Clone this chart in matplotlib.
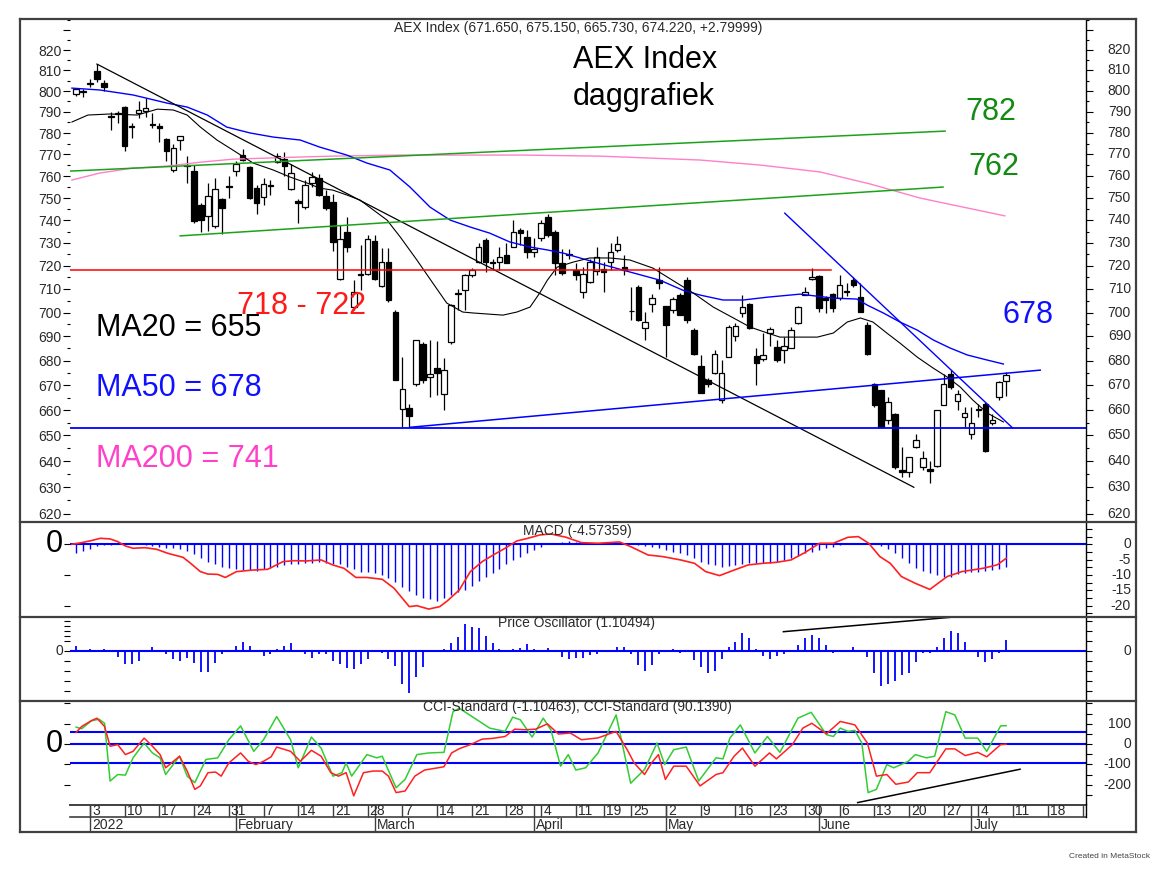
import numpy as np
import matplotlib
matplotlib.use("Agg")
import matplotlib.pyplot as plt
import matplotlib.transforms as mtransforms
from matplotlib.lines import Line2D
from matplotlib.ticker import FixedLocator, FuncFormatter, NullFormatter

plt.rcParams["font.family"] = ["Liberation Sans", "DejaVu Sans"]

W, H = 1154, 873
TXT = "#2a2a2a"
FRAME = "#404040"

# --------------------------------------------------------------------------- #
#  Data (bar 0 = Mon 3 Jan 2022, trading days only)
# --------------------------------------------------------------------------- #
FIRST_BAR = -2

opens = [
    798.5, 799.5, 803.5, 809.5, 803.7, 788.0, 789.0, 792.5, 783.5, 789.4,
    790.2, 784.0, 783.1, 777.2, 762.9, 776.5, 765.0, 762.2, 747.0, 742.0,
    737.4, 749.6, 755.5, 762.2, 769.9, 764.4, 754.5, 750.7, 755.6, 766.6,
    768.0, 754.0, 748.5, 746.1, 756.8, 759.0, 751.0, 748.1, 714.4, 735.0,
    702.4, 716.0, 716.6, 731.0, 711.2, 721.6, 700.3, 660.5, 660.8, 670.5,
    687.0, 673.5, 677.0, 666.5, 687.7, 707.8, 709.5, 716.0, 721.7, 731.2,
    721.7, 721.7, 724.5, 728.3, 735.7, 732.7, 726.0, 732.0, 741.6, 735.0,
    721.0, 724.6, 718.0, 708.8, 713.0, 717.9, 718.5, 721.8, 727.0, 719.5,
    700.5, 711.0, 693.7, 703.8, 714.0, 702.7, 701.0, 707.4, 713.8, 692.6,
    677.8, 672.1, 675.0, 664.1, 681.5, 690.0, 699.6, 703.5, 681.7, 680.6,
    691.5, 685.7, 684.5, 685.0, 695.7, 707.5, 714.5, 715.5, 706.0, 708.0,
    706.0, 709.0, 714.0, 706.7, 694.7, 670.6, 667.9, 655.9, 658.5, 636.5,
    635.8, 645.6, 637.7, 636.8, 638.3, 661.9, 674.4, 663.6, 657.2, 650.6,
    660.5, 662.6, 654.9, 665.2, 671.65,
]
highs = [
    801.5, 801.0, 806.0, 813.0, 805.5, 790.0, 790.5, 793.0, 784.6, 795.0,
    796.5, 789.4, 784.6, 777.6, 775.0, 778.5, 769.4, 765.2, 748.0, 756.8,
    759.0, 750.0, 760.2, 766.8, 772.7, 764.7, 756.0, 759.0, 758.0, 770.5,
    771.0, 765.5, 749.5, 758.0, 762.0, 761.0, 753.6, 751.8, 737.8, 741.4,
    713.7, 729.0, 733.6, 733.6, 727.7, 727.7, 701.0, 681.5, 662.6, 688.4,
    687.7, 688.4, 688.0, 681.0, 703.7, 710.0, 716.6, 719.0, 729.8, 732.0,
    723.0, 728.3, 729.8, 740.0, 736.5, 735.7, 732.0, 740.0, 743.0, 735.5,
    727.5, 727.5, 721.0, 719.6, 723.0, 728.0, 721.8, 730.0, 733.0, 724.6,
    710.9, 711.5, 700.3, 708.0, 719.6, 702.9, 706.7, 708.2, 715.2, 693.3,
    682.2, 672.8, 684.3, 680.3, 694.7, 695.4, 707.4, 704.0, 685.0, 691.5,
    694.0, 688.5, 689.9, 694.0, 702.6, 711.0, 719.0, 716.0, 707.0, 708.3,
    716.0, 712.4, 715.2, 712.4, 695.9, 670.9, 668.0, 665.2, 659.0, 645.4,
    641.5, 650.6, 644.1, 640.0, 660.0, 674.7, 676.0, 668.0, 661.3, 661.3,
    662.6, 663.2, 658.5, 671.6, 675.15,
]
lows = [
    797.8, 797.0, 802.0, 804.5, 800.0, 781.5, 784.6, 771.4, 777.6, 787.0,
    787.8, 782.3, 776.0, 766.8, 762.0, 772.0, 756.8, 738.8, 735.0, 735.2,
    736.5, 734.0, 750.0, 760.2, 766.8, 749.6, 742.8, 747.0, 751.6, 766.0,
    760.0, 753.8, 738.6, 745.3, 755.0, 751.0, 744.6, 726.3, 714.0, 726.1,
    701.0, 709.5, 716.0, 714.0, 711.0, 704.5, 672.0, 653.3, 653.3, 669.6,
    671.0, 665.3, 666.0, 660.0, 687.0, 701.0, 701.0, 715.0, 721.0, 717.3,
    718.0, 718.0, 721.0, 728.0, 729.0, 723.6, 724.0, 731.0, 732.5, 716.0,
    716.0, 723.0, 714.0, 706.0, 712.4, 716.0, 708.5, 718.2, 726.0, 716.0,
    697.0, 696.6, 688.5, 700.3, 710.0, 681.5, 699.6, 698.9, 695.4, 682.2,
    666.7, 669.4, 674.7, 662.7, 681.5, 688.0, 698.2, 693.0, 670.0, 680.0,
    686.0, 679.5, 678.9, 685.0, 695.0, 707.5, 713.7, 700.3, 700.0, 700.3,
    705.3, 707.0, 711.0, 700.3, 682.2, 661.3, 653.5, 654.6, 637.0, 633.8,
    633.8, 645.0, 636.5, 631.8, 637.7, 661.9, 668.6, 660.0, 653.4, 648.6,
    657.2, 643.5, 654.0, 663.9, 665.73,
]
closes = [
    800.8, 800.0, 804.0, 805.6, 801.8, 787.5, 789.5, 773.7, 783.0, 791.0,
    791.8, 783.8, 782.5, 771.4, 773.0, 778.4, 764.5, 739.6, 740.3, 751.0,
    754.1, 745.5, 755.0, 765.7, 767.5, 750.0, 747.8, 756.2, 755.9, 769.2,
    764.5, 761.5, 748.0, 755.9, 759.5, 751.3, 745.4, 730.5, 731.9, 728.3,
    708.8, 716.5, 731.9, 714.4, 721.6, 705.3, 672.0, 668.6, 657.8, 688.4,
    672.0, 674.7, 675.0, 676.0, 703.0, 708.2, 716.0, 718.2, 728.3, 721.7,
    721.0, 724.0, 721.0, 735.0, 734.2, 726.0, 727.5, 738.6, 733.5, 721.0,
    717.0, 725.0, 716.0, 716.4, 721.6, 724.0, 717.5, 725.8, 729.5, 718.0,
    700.7, 697.0, 696.0, 706.0, 712.6, 694.7, 705.9, 698.9, 696.8, 682.6,
    666.7, 670.5, 682.6, 674.8, 694.0, 694.3, 702.5, 693.7, 678.9, 682.3,
    693.0, 680.3, 686.0, 692.6, 702.2, 708.5, 715.0, 701.7, 705.5, 701.7,
    711.7, 708.5, 711.7, 700.3, 682.8, 661.9, 653.5, 663.2, 637.7, 636.0,
    641.5, 648.2, 641.2, 636.2, 660.0, 670.6, 669.2, 666.3, 658.8, 655.0,
    660.0, 644.1, 656.2, 671.42, 674.22,
]

# moving averages (bar position, value)
ma20_x = [-2.6, -0.3, 2.9, 6.8, 9.7, 12.0, 14.0, 15.9, 18.3, 20.6,
          23.5, 26.4, 28.8, 31.3, 33.1, 35.0, 37.0, 38.9, 42.8, 44.7,
          47.1, 49.4, 51.4, 53.7, 55.2, 59.5, 61.5, 63.4, 64.8, 65.9,
          67.3, 69.6, 72.0, 74.9, 77.8, 81.1, 84.6, 86.9, 89.8, 92.7,
          95.1, 97.6, 99.4, 102.3, 104.8, 107.1, 109.1, 111.0, 112.8, 114.8,
          116.7, 119.2, 121.5, 123.5, 125.4, 127.2, 129.3, 131.6]
ma20_v = [785.2, 788.5, 789.0, 788.5, 791.3, 790.9, 788.5, 782.8, 776.7, 772.0,
          766.0, 762.8, 759.6, 756.8, 754.5, 753.6, 751.4, 749.1, 740.1, 732.6,
          722.5, 712.5, 704.0, 700.2, 699.8, 698.9, 700.2, 702.3, 708.3, 713.8,
          719.4, 721.6, 723.4, 723.4, 722.5, 719.0, 712.5, 708.3, 702.3, 697.7,
          693.9, 691.4, 689.7, 689.7, 689.7, 691.4, 696.0, 697.7, 696.0, 691.4,
          687.2, 681.4, 676.9, 673.3, 669.2, 664.0, 658.8, 655.3]
ma50_x = [-2.6, 1.4, 6.2, 11.1, 14.0, 16.9, 19.7, 23.1, 26.4, 30.3,
          33.1, 37.0, 39.9, 43.2, 46.1, 49.0, 51.9, 54.8, 57.6, 60.5,
          63.4, 65.9, 68.2, 70.6, 73.1, 77.8, 82.1, 85.4, 87.9, 91.2,
          94.1, 97.6, 102.3, 107.1, 110.5, 112.0, 114.3, 116.7, 119.2, 121.5,
          123.9, 126.4, 129.3, 131.6]
ma50_v = [801.4, 800.5, 798.1, 794.2, 792.3, 788.5, 782.8, 780.0, 778.1, 776.7,
          773.4, 769.7, 766.0, 762.8, 755.0, 745.9, 740.1, 737.0, 734.3, 730.4,
          728.2, 726.9, 725.5, 723.4, 721.2, 717.3, 713.8, 709.5, 707.4, 705.3,
          705.3, 706.5, 707.8, 706.1, 705.7, 703.1, 699.8, 696.0, 692.6, 688.5,
          685.2, 682.3, 680.2, 678.6]
ma200_x = [-2.6, 1.4, 6.2, 11.1, 15.9, 20.6, 25.5, 30.3, 35.0, 44.7,
           62.0, 73.5, 87.9, 96.5, 105.2, 112.4, 119.6, 131.8]
ma200_v = [758.2, 761.4, 763.7, 764.6, 766.4, 767.8, 768.3, 768.8, 769.2, 769.7,
           769.7, 769.2, 767.4, 765.1, 761.9, 756.4, 750.0, 742.0]

# drawn trend lines (end points)
down_x, down_v = [1.0, 118.7], [813.1, 630.0]
chan_hi_x, chan_hi_v = [-2.88, 123.2], [762.3, 780.9]
chan_lo_x, chan_lo_v = [13.0, 122.9], [733.1, 755.0]
resist_x, resist_v = [-2.88, 106.8], [718.1, 718.1]
support_x, support_v = [-2.88, 143.5], [653.0, 653.0]
rise_x, rise_v = [46.1, 136.9], [653.2, 676.1]
steep_x, steep_v = [100.1, 132.9], [743.2, 653.0]

# MACD
macd_x = [-2.6, -1.2, 0.2, 1.5, 2.9, 4.0, 5.1, 6.2, 7.9, 9.6,
          11.2, 13.4, 14.5, 15.9, 17.0, 18.4, 19.5, 21.1, 23.4, 25.6,
          27.8, 29.4, 31.1, 33.3, 35.0, 36.6, 38.3, 39.9, 42.1, 43.8,
          46.0, 47.1, 48.8, 50.4, 51.5, 53.2, 54.8, 56.5, 58.1, 59.8,
          61.5, 63.1, 64.8, 66.4, 68.6, 70.8, 73.2, 76.3, 77.9, 80.4,
          82.5, 85.1, 87.1, 88.7, 90.7, 92.8, 94.8, 96.9, 98.9, 101.0,
          103.0, 105.1, 107.1, 109.2, 110.7, 112.2, 113.8, 115.3, 116.9, 118.9,
          121.0, 123.5, 125.6, 128.7, 130.7, 132.0]
macd_v = [0, 0.54, 1.2, 1.96, 1.74, 0.87, -0.54, -1.3, -1.1, -1.63,
          -2.93, -4.24, -6.2, -8.9, -9.7, -9.8, -10.8, -8.9, -8.4, -8.15,
          -5.65, -5.33, -5.43, -5.1, -6.74, -7.83, -10.8, -10.8, -11.4, -14.3,
          -20.3, -20.0, -21.1, -20.3, -18.4, -14.9, -8.9, -5.65, -3.48, -1.3,
          1.09, 1.96, 3.04, 3.37, 2.28, 0.54, 0.33, 0.76, -0.76, -3.48,
          -4.0, -5.1, -6.2, -8.9, -10.2, -8.4, -6.74, -6.2, -5.87, -5.1,
          -2.7, 0.33, 0.33, 2.28, 2.5, 0.33, -4.0, -6.2, -10.5, -12.7,
          -14.7, -10.5, -8.9, -7.8, -6.7, -4.57]
macd_hist = [
    -2.7, -2.07, -1.63, -0.54, -0.2, -0.1, 0, 0, 0, 0,
    -0.2, -0.54, -0.76, -1.09, -1.3, -1.63, -2.07, -3.15, -4.57, -5.65,
    -6.4, -7.3, -7.8, -8.15, -8.4, -8.4, -8.6, -8.15, -7.8, -7.3,
    -6.74, -6.4, -6.4, -6.2, -6.0, -5.65, -6.0, -6.4, -6.4, -7.3,
    -8.15, -8.9, -8.9, -9.46, -10.0, -10.9, -12.2, -13.8, -15.2, -16.5,
    -17.6, -17.9, -18.4, -17.6, -16.5, -15.4, -14.9, -13.6, -11.8, -10.5,
    -9.46, -8.15, -6.5, -5.1, -4.0, -2.93, -1.85, -0.76, 0, 0.3,
    0.65, 1.09, 0.87, 0.65, 0.33, 0.3, 0.5, 0.6, 0.5, 0.2,
    0, -0.3, -0.54, -1.0, -1.3, -1.85, -2.4, -2.93, -3.48, -4.57,
    -5.65, -6.4, -6.74, -7.3, -7.07, -6.74, -6.4, -6.2, -6.2, -6.2,
    -6.0, -5.65, -5.1, -4.57, -3.8, -2.93, -2.4, -1.85, -1.3, -0.76,
    -0.33, 0.1, 0.2, 0.15, 0.05, 0, -0.54, -1.63, -2.93, -4.57,
    -6.2, -7.8, -8.7, -9.46, -10.0, -10.5, -10.5, -9.67, -9.24, -8.9,
    -8.9, -8.6, -8.37, -8.15, -7.3,
]

# Price oscillator
price_osc = [
    0.5, 0.13, 0.17, 0.1, 0.17, 0, -0.57, -1.3, -1.3, -0.97,
    0, 0.37, 0, -0.33, -0.83, -0.97, -0.67, -1.23, -2.07, -2.07,
    -1.17, -0.33, 0, 0.5, 0.93, 0.5, 0, -0.5, -0.33, 0.17,
    0.5, 0.77, 0, -0.33, -0.67, -0.33, -0.33, -1.0, -1.3, -1.73,
    -1.83, -1.3, -0.77, 0, -0.23, -0.77, -1.5, -3.33, -4.23, -2.57,
    -1.57, 0, 0, 0.17, 0.77, 1.37, 2.7, 2.43, 2.27, 1.53,
    0.77, 0.17, 0, 0.17, 0.33, 0.67, 0.17, 0, 0.33, 0,
    -0.57, -0.77, -0.67, -0.67, -0.43, -0.3, 0, 0.1, 0.37, 0.37,
    -0.3, -1.4, -2.0, -1.4, -0.3, 0, 0.17, -0.17, 0, -0.9,
    -1.63, -2.17, -1.97, -0.83, 0.37, 0.93, 1.83, 1.27, 0.17, -0.47,
    -0.77, -0.47, -0.3, 0, 0.6, 1.33, 1.57, 1.27, 0.6, -0.17,
    0, 0, 0.37, 0, -0.57, -2.17, -3.47, -3.3, -2.97, -2.4,
    -2.23, -1.07, -0.17, -0.17, 0.43, 1.27, 2.03, 1.83, 0.93, 0,
    -0.57, -1.07, -0.77, -0.17, 1.10,
]
po_line_x, po_line_v = [99.9, 124.0], [1.93, 3.37]

# CCI (two lines)
cci_red_x = [-2.0, -1.2, 0.2, 1.0, 2.1, 2.9, 4.0, 5.1, 6.2, 7.8,
             9.0, 10.1, 10.9, 12.9, 14.0, 15.1, 15.9, 17.0, 18.1, 18.9,
             20.0, 21.7, 22.8, 23.9, 25.0, 26.1, 26.9, 28.9, 30.3, 31.9,
             33.3, 34.7, 35.8, 36.9, 38.0, 39.4, 40.8, 42.1, 43.0, 44.1,
             45.4, 46.8, 48.2, 51.0, 52.1, 53.2, 54.8, 56.5, 58.1, 59.8,
             61.2, 62.6, 64.2, 65.9, 67.5, 69.2, 70.8, 73.2, 75.8, 77.4,
             78.4, 79.9, 80.9, 81.9, 82.9, 84.1, 85.9, 87.9, 90.2, 91.2,
             92.8, 94.0, 95.8, 97.9, 98.9, 101.2, 102.7, 104.0, 106.1, 108.1,
             110.2, 112.0, 113.3, 114.8, 116.1, 117.9, 119.2, 121.0, 123.3, 124.6,
             126.1, 127.9, 129.2, 131.2, 132.0]
cci_red_v = [57, 86, 115, 127, 86, -11, -3, -52, -36, 29,
             -11, -52, -117, -60, -133, -223, -206, -141, -138, -158,
             -93, -44, -85, -101, -85, -63, -15, -36, -85, -31,
             -60, -141, -158, -141, -255, -141, -133, -133, -158, -239,
             -231, -158, -128, -112, -44, -23, -3, 24, 28, 37,
             73, 70, 73, 99, 49, 54, 21, 30, 62, -28,
             -93, -150, -93, -52, -174, -109, -109, -206, -150, -141,
             -60, -20, -109, -44, -73, -3, 78, 102, 50, 111,
             94, 5, -158, -150, -198, -187, -141, -141, -24, -24,
             -57, -41, -63, -3, -1.1]
cci_green_x = [-2.0, -1.2, 0.2, 1.3, 2.1, 2.9, 4.0, 5.1, 6.2, 7.8,
               9.0, 10.1, 10.9, 12.9, 14.0, 15.1, 16.7, 18.4, 20.0, 21.7,
               23.6, 25.0, 26.9, 28.9, 30.0, 31.9, 33.3, 35.0, 36.3, 36.9,
               37.7, 39.9, 41.3, 42.1, 44.1, 45.4, 47.1, 48.8, 51.0, 52.3,
               53.2, 55.4, 57.6, 59.8, 60.9, 62.0, 63.7, 65.3, 66.4, 67.8,
               68.9, 70.0, 71.4, 73.2, 75.8, 77.9, 79.9, 81.7, 82.8, 84.1,
               85.9, 87.7, 90.2, 91.2, 92.2, 93.7, 95.8, 97.6, 99.4, 102.0,
               103.9, 106.1, 107.1, 108.1, 109.2, 110.2, 111.2, 112.1, 113.3, 114.8,
               115.8, 117.9, 118.9, 120.5, 121.7, 123.3, 124.6, 126.1, 127.9, 129.2,
               131.2, 132.0]
cci_green_v = [83, 75, 114, 122, 102, -182, -150, -153, -68, 5,
               -44, -68, -150, -60, -158, -190, -76, -68, 21, 89,
               -36, 21, 135, 21, -117, 34, -20, -158, -141, -93,
               -158, -52, -68, -60, -215, -174, -52, -44, -41, 159,
               176, 127, 78, 62, 132, 119, 34, 127, 70, -109,
               -52, -128, -117, -44, 143, -193, -125, 5, -101, -28,
               -15, -182, -68, -73, 29, 94, -44, 37, -41, 127,
               156, 46, 37, 78, 62, 67, 5, -239, -223, -101,
               -117, -85, -52, -68, -60, 159, 143, 29, 29, -36,
               89, 90.1]
cci_levels = [60, 0, -95]
cci_line_x, cci_line_v = [110.6, 134.0], [-288, -124]

# date axis
week_idx = [0, 5, 10, 15, 20, 25, 30, 35, 40, 45, 50, 55, 60, 65, 70,
            74, 78, 83, 88, 93, 98, 103, 108, 113, 118, 123, 128, 133, 138, 143]
week_lbl = ["3", "10", "17", "24", "31", "7", "14", "21", "28", "7", "14", "21",
            "28", "4", "11", "19", "25", "2", "9", "16", "23", "30", "6", "13",
            "20", "27", "4", "11", "18", "25"]
month_idx = [0, 21, 41, 64, 83, 105, 127]
month_lbl = ["2022", "February", "March", "April", "May", "June", "July"]

XL = (-2.88, 143.5)
LAB_X = (1131 - 70) / 1016      # right-aligned label position (axes fraction)
ZERO_X = (54 - 70) / 1016


# --------------------------------------------------------------------------- #
#  Helpers
# --------------------------------------------------------------------------- #
def add_panel(fig, top, bottom):
    ax = fig.add_axes([70 / W, 1 - bottom / H, 1016 / W, (bottom - top) / H])
    ax.set_xlim(*XL)
    ax.set_xticks([])
    for s in ("top", "left", "bottom"):
        ax.spines[s].set_visible(False)
    ax.spines["right"].set_linewidth(1.0)
    ax.spines["right"].set_color("black")
    ax.yaxis.remove_overlapping_locs = False
    return ax


def right_labels(ax, vals, labels):
    tr = mtransforms.blended_transform_factory(ax.transAxes, ax.transData)
    for v, s in zip(vals, labels):
        ax.text(LAB_X, v, s, transform=tr, ha="right", va="center",
                fontsize=10, color=TXT, clip_on=False)


def sub_ticks(ax, right_ticks, left_ticks):
    ax.yaxis.set_major_locator(FixedLocator(right_ticks))
    ax.yaxis.set_minor_locator(FixedLocator(left_ticks))
    ax.yaxis.set_major_formatter(NullFormatter())
    ax.yaxis.set_minor_formatter(NullFormatter())
    ax.tick_params(axis="y", which="major", left=False, right=True,
                   direction="out", length=4, width=0.8)
    ax.tick_params(axis="y", which="minor", left=True, right=False,
                   direction="out", length=4, width=0.8)


def fline(fig, x1, y1, x2, y2, lw=1.6, color=FRAME):
    fig.add_artist(Line2D([x1 / W, x2 / W], [1 - y1 / H, 1 - y2 / H],
                          transform=fig.transFigure, color=color, lw=lw))


def ftext(fig, x, y, s, **kw):
    fig.text(x / W, 1 - y / H, s, **kw)


# --------------------------------------------------------------------------- #
#  Figure
# --------------------------------------------------------------------------- #
fig = plt.figure(figsize=(W / 100, H / 100), dpi=100)
fig.patch.set_facecolor("white")

bars = np.arange(FIRST_BAR, FIRST_BAR + len(closes))
o, h, l, c = (np.array(a, dtype=float) for a in (opens, highs, lows, closes))

# ---- price panel ----
ax = add_panel(fig, 19, 522)
ax.set_yscale("log")
ax.set_ylim(616.95, 835.5)
ax.yaxis.set_major_locator(FixedLocator(np.arange(620, 831, 10)))
ax.yaxis.set_minor_locator(FixedLocator(np.arange(625, 836, 10)))
ax.yaxis.set_major_formatter(FuncFormatter(lambda v, p: "%d" % round(v) if v < 825 else ""))
ax.yaxis.set_minor_formatter(NullFormatter())
ax.tick_params(axis="y", which="both", left=True, right=True, direction="out",
               labelleft=True, labelright=False, labelsize=10, labelcolor=TXT,
               pad=1, width=0.8)
ax.tick_params(axis="y", which="major", length=5)
ax.tick_params(axis="y", which="minor", length=2.5)
right_labels(ax, list(range(620, 821, 10)), [str(v) for v in range(620, 821, 10)])

up = c >= o
lo_body = np.minimum(o, c)
body = np.maximum(np.abs(c - o), 0.25)
ax.vlines(bars, l, h, color="black", lw=0.9, zorder=2)
ax.bar(bars[up], body[up], bottom=lo_body[up], width=0.8, facecolor="white",
       edgecolor="black", lw=0.9, zorder=3)
ax.bar(bars[~up], body[~up], bottom=lo_body[~up], width=0.8, facecolor="black",
       edgecolor="black", lw=0.9, zorder=3)

ax.plot(ma200_x, ma200_v, color="#ff80c8", lw=1.0, zorder=4)
ax.plot(ma50_x, ma50_v, color="#0000ff", lw=1.0, zorder=4)
ax.plot(ma20_x, ma20_v, color="black", lw=0.8, zorder=4)
ax.plot(down_x, down_v, color="black", lw=0.9, zorder=4)
ax.plot(chan_hi_x, chan_hi_v, color="#1aa31a", lw=1.1, zorder=4)
ax.plot(chan_lo_x, chan_lo_v, color="#1aa31a", lw=1.1, zorder=4)
ax.plot(resist_x, resist_v, color="#ff0000", lw=1.1, zorder=4)
ax.plot(support_x, support_v, color="#0000ff", lw=1.3, zorder=4)
ax.plot(rise_x, rise_v, color="#0000ff", lw=1.1, zorder=4)
ax.plot(steep_x, steep_v, color="#0000ff", lw=1.0, zorder=4)

# ---- MACD panel ----
axm = add_panel(fig, 522, 617)
axm.set_ylim(-23.68, 7.26)
sub_ticks(axm, np.arange(-22.5, 5.1, 2.5), [0, -10, -20])
axm.vlines(bars, 0, macd_hist, color="#0000ff", lw=1.0, zorder=2)
axm.axhline(0, color="#0000ff", lw=1.5, zorder=3)
axm.plot(macd_x, macd_v, color="#ff2020", lw=1.2, zorder=4)
right_labels(axm, [0, -5, -10, -15, -20], ["0", "-5", "-10", "-15", "-20"])

# ---- Price oscillator panel ----
axp = add_panel(fig, 617, 701)
axp.set_ylim(-5.0, 3.4)
sub_ticks(axp, [3, 2, 1, 0, -1, -2, -3, -4], [3, 2.5, 2, 1.5, 1, 0, -1, -2, -3, -4])
axp.vlines(bars, 0, price_osc, color="#0000ff", lw=1.3, zorder=2)
axp.axhline(0, color="#0000ff", lw=1.5, zorder=3)
axp.plot(po_line_x, po_line_v, color="black", lw=1.1, zorder=4)
right_labels(axp, [0], ["0"])

# ---- CCI panel ----
axc = add_panel(fig, 701, 804)
axc.set_ylim(-295, 211.5)
sub_ticks(axc, np.arange(-250, 201, 50), [200, 100, 0, -100, -200])
for lv in cci_levels:
    axc.axhline(lv, color="#0000ff", lw=1.5, zorder=2)
axc.plot(cci_green_x, cci_green_v, color="#33cc33", lw=1.1, zorder=3)
axc.plot(cci_red_x, cci_red_v, color="#ff2020", lw=1.1, zorder=4)
axc.plot(cci_line_x, cci_line_v, color="black", lw=1.1, zorder=4)
right_labels(axc, [100, 0, -100, -200], ["100", "0", "-100", "-200"])

# left-hand zero labels
for a in (axm, axc):
    tr = mtransforms.blended_transform_factory(a.transAxes, a.transData)
    a.text(ZERO_X, 0, "0", transform=tr, ha="center", va="center",
           fontsize=22, color="black", clip_on=False)
trp = mtransforms.blended_transform_factory(axp.transAxes, axp.transData)
axp.text((59 - 70) / 1016, 0, "0", transform=trp, ha="center", va="center",
         fontsize=10, color=TXT, clip_on=False)

# ---- date band (y in px above the bottom frame) ----
axd = fig.add_axes([70 / W, 1 - 832 / H, 1016 / W, 28 / H])
axd.set_xlim(*XL)
axd.set_ylim(0, 28)
axd.axis("off")
axd.plot(XL, [27.5, 27.5], color=FRAME, lw=1.4, clip_on=False)
axd.plot(XL, [15.5, 15.5], color=FRAME, lw=1.2, clip_on=False)
axd.vlines(week_idx, 15.5, 27.5, color=FRAME, lw=1.0)
axd.vlines(month_idx, 0, 27.5, color=FRAME, lw=1.0)
for i, s in zip(week_idx, week_lbl):
    axd.text(i + 0.3, 21.3, s, ha="left", va="center", fontsize=10, color=TXT,
             clip_on=True)
for i, s in zip(month_idx, month_lbl):
    axd.text(i + 0.3, 6.6, s, ha="left", va="center", fontsize=10, color=TXT,
             clip_on=True)

# ---- frame ----
fline(fig, 20, 19, 1136, 19)
fline(fig, 1136, 19, 1136, 832)
fline(fig, 1136, 832, 20, 832)
fline(fig, 20, 832, 20, 19)
for yy in (522, 617, 701):
    fline(fig, 20, yy, 1136, yy)
fline(fig, 1086, 804, 1086, 817, lw=1.0, color="black")

# ---- texts ----
ftext(fig, 578, 28, "AEX Index (671.650, 675.150, 665.730, 674.220, +2.79999)",
      ha="center", va="center", fontsize=10, color=TXT)
ftext(fig, 577, 531, "MACD (-4.57359)", ha="center", va="center", fontsize=10, color=TXT)
ftext(fig, 577, 623, "Price Oscillator (1.10494)", ha="center", va="center",
      fontsize=10, color=TXT)
ftext(fig, 577, 707, "CCI-Standard (-1.10463), CCI-Standard (90.1390)",
      ha="center", va="center", fontsize=10, color=TXT)

ftext(fig, 573, 60, "AEX Index", ha="left", va="center", fontsize=22, color="black")
ftext(fig, 573, 97, "daggrafiek", ha="left", va="center", fontsize=22, color="black")
ftext(fig, 965, 112, "782", ha="left", va="center", fontsize=22, color="#138a13")
ftext(fig, 968, 167, "762", ha="left", va="center", fontsize=22, color="#138a13")
ftext(fig, 237, 306, "718 - 722", ha="left", va="center", fontsize=22, color="#ff1a1a")
ftext(fig, 96, 328, "MA20 = 655", ha="left", va="center", fontsize=22, color="black")
ftext(fig, 96, 388, "MA50 = 678", ha="left", va="center", fontsize=22, color="#1010ff")
ftext(fig, 96, 459, "MA200 = 741", ha="left", va="center", fontsize=22, color="#ff40c8")
ftext(fig, 1003, 315, "678", ha="left", va="center", fontsize=22, color="#1010ff")
ftext(fig, 1150, 857, "Created in MetaStock", ha="right", va="center",
      fontsize=6, color="#444444")

fig.savefig("out.png", dpi=100)
